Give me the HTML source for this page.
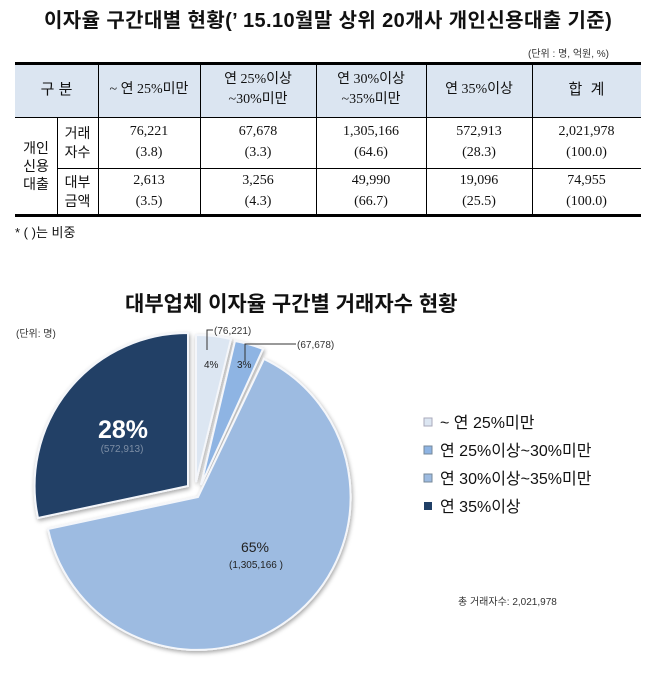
<!DOCTYPE html>
<html><head><meta charset="utf-8">
<style>
*{margin:0;padding:0;box-sizing:border-box}
body{width:664px;height:699px;background:#fff;position:relative;overflow:hidden;font-family:"Liberation Sans","Noto Sans CJK KR",sans-serif;color:#111}
.a{position:absolute;white-space:nowrap}
.serif{font-family:"Liberation Serif","Noto Sans CJK KR",serif}
.c{position:absolute;display:flex;align-items:center;justify-content:center;text-align:center;line-height:1.45;font-size:14px}
.hl{position:absolute;background:#000}
</style></head><body>
<div class="a" style="left:44px;top:4px;font-size:20px;font-weight:bold;letter-spacing:0.4px">이자율 구간대별 현황(’ 15.10월말 상위 20개사 개인신용대출 기준)</div>
<div class="a" style="left:528px;top:45px;font-size:10px;color:#333">(단위 : 명, 억원, %)</div>

<div class="a" style="left:15px;top:63px;width:626px;height:54px;background:#dbe5f1"></div>
<div class="hl" style="left:15px;top:62px;width:626px;height:3px"></div>
<div class="hl" style="left:15px;top:117px;width:626px;height:1px"></div>
<div class="hl" style="left:57px;top:168px;width:584px;height:1px"></div>
<div class="hl" style="left:15px;top:214px;width:626px;height:3px"></div>
<div class="hl" style="left:57px;top:117px;width:1px;height:98px"></div>
<div class="hl" style="left:98px;top:63px;width:1px;height:152px"></div>
<div class="hl" style="left:200px;top:63px;width:1px;height:152px"></div>
<div class="hl" style="left:316px;top:63px;width:1px;height:152px"></div>
<div class="hl" style="left:426px;top:63px;width:1px;height:152px"></div>
<div class="hl" style="left:532px;top:63px;width:1px;height:152px"></div>

<div class="c" style="left:15px;top:63px;width:83px;height:54px;font-size:15px">구 분</div>
<div class="c serif" style="left:98px;top:63px;width:102px;height:54px">~ 연 25%미만</div>
<div class="c serif" style="left:200px;top:63px;width:116px;height:54px">연 25%이상<br>~30%미만</div>
<div class="c serif" style="left:316px;top:63px;width:110px;height:54px">연 30%이상<br>~35%미만</div>
<div class="c serif" style="left:426px;top:63px;width:106px;height:54px">연 35%이상</div>
<div class="c" style="left:532px;top:63px;width:109px;height:54px;font-size:15px">합 &nbsp;계</div>

<div class="c" style="left:15px;top:117px;width:42px;height:98px;line-height:1.3">개인<br>신용<br>대출</div>
<div class="c" style="left:57px;top:117px;width:41px;height:51px;line-height:1.3">거래<br>자수</div>
<div class="c" style="left:57px;top:168px;width:41px;height:47px;line-height:1.3">대부<br>금액</div>

<div class="c serif" style="left:98px;top:117px;width:102px;height:51px">76,221<br>(3.8)</div>
<div class="c serif" style="left:200px;top:117px;width:116px;height:51px">67,678<br>(3.3)</div>
<div class="c serif" style="left:316px;top:117px;width:110px;height:51px">1,305,166<br>(64.6)</div>
<div class="c serif" style="left:426px;top:117px;width:106px;height:51px">572,913<br>(28.3)</div>
<div class="c serif" style="left:532px;top:117px;width:109px;height:51px">2,021,978<br>(100.0)</div>
<div class="c serif" style="left:98px;top:168px;width:102px;height:47px">2,613<br>(3.5)</div>
<div class="c serif" style="left:200px;top:168px;width:116px;height:47px">3,256<br>(4.3)</div>
<div class="c serif" style="left:316px;top:168px;width:110px;height:47px">49,990<br>(66.7)</div>
<div class="c serif" style="left:426px;top:168px;width:106px;height:47px">19,096<br>(25.5)</div>
<div class="c serif" style="left:532px;top:168px;width:109px;height:47px">74,955<br>(100.0)</div>

<div class="a" style="left:15px;top:222px;font-size:13px">* ( )는 비중</div>

<div class="a" style="left:125px;top:288px;font-size:21px;font-weight:bold">대부업체 이자율 구간별 거래자수 현황</div>
<div class="a" style="left:16px;top:325px;font-size:10px;color:#333">(단위: 명)</div>

<svg class="a" style="left:0;top:0" width="664" height="699">
<defs>
<filter id="sh" x="-10%" y="-10%" width="120%" height="120%"><feDropShadow dx="1" dy="2" stdDeviation="2" flood-opacity="0.35"/></filter>
</defs>
<g filter="url(#sh)" stroke="#f4f6fa" stroke-width="2">
<path d="M198,497 L264,359 A153,153 0 1,1 48,529 Z" fill="#9dbbe1"/>
<path d="M188,486 L38,518 A153,153 0 0,1 188,333 Z" fill="#203f66"/>
<path d="M196,482 L196,335 A153,153 0 0,1 231,339 Z" fill="#dce6f2"/>
<path d="M201,485 L235,341 A153,153 0 0,1 263,349 Z" fill="#8eb4e3"/>
</g>
<polyline points="207,350 207,330 213,330" fill="none" stroke="#333" stroke-width="1"/>
<polyline points="245,361 245,344 296,344" fill="none" stroke="#333" stroke-width="1"/>
<text x="214" y="334" font-size="10" fill="#333" font-family="Liberation Sans,sans-serif">(76,221)</text>
<text x="297" y="348" font-size="10" fill="#333" font-family="Liberation Sans,sans-serif">(67,678)</text>
<text x="204" y="368" font-size="10" fill="#222" font-family="Liberation Sans,sans-serif">4%</text>
<text x="237" y="368" font-size="10" fill="#222" font-family="Liberation Sans,sans-serif">3%</text>
<text x="123" y="438" font-size="25" font-weight="bold" fill="#fff" text-anchor="middle" font-family="Liberation Sans,sans-serif">28%</text>
<text x="122" y="452" font-size="10" fill="#7d8ea5" text-anchor="middle" font-family="Liberation Sans,sans-serif">(572,913)</text>
<text x="255" y="552" font-size="14" fill="#222" text-anchor="middle" font-family="Liberation Sans,sans-serif">65%</text>
<text x="256" y="568" font-size="10" fill="#222" text-anchor="middle" font-family="Liberation Sans,sans-serif">(1,305,166 )</text>
<g font-family="Liberation Sans,Noto Sans CJK KR,sans-serif" font-size="16" fill="#111">
<rect x="424" y="418" width="8" height="8" fill="#dce6f2" stroke="#aab"/><text x="440" y="428">~ 연 25%미만</text>
<rect x="424" y="446" width="8" height="8" fill="#8eb4e3" stroke="#789"/><text x="440" y="456">연 25%이상~30%미만</text>
<rect x="424" y="474" width="8" height="8" fill="#9dbbe1" stroke="#789"/><text x="440" y="484">연 30%이상~35%미만</text>
<rect x="424" y="502" width="8" height="8" fill="#203f66"/><text x="440" y="512">연 35%이상</text>
</g>
<text x="458" y="605" font-size="10" fill="#333" font-family="Liberation Sans,Noto Sans CJK KR,sans-serif">총 거래자수: 2,021,978</text>
</svg>
</body></html>
